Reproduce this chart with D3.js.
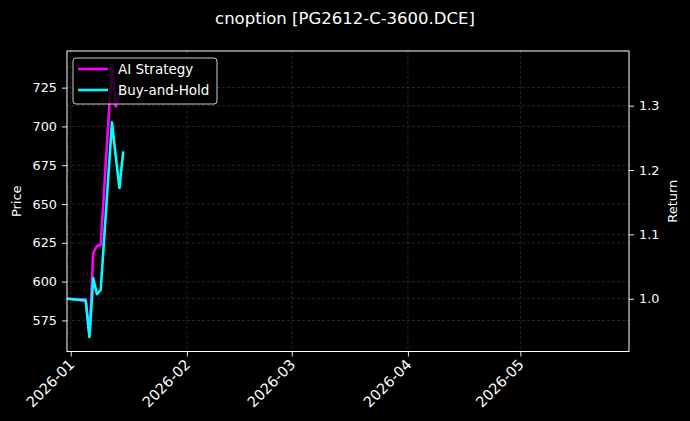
<!DOCTYPE html>
<html>
<head>
<meta charset="utf-8">
<script src="https://cdn.jsdelivr.net/npm/d3@7"></script>
<style>
  body { margin: 0; background: #000; }
  svg { display: block; font-family: "DejaVu Sans", sans-serif; }
  .tick text { fill: #fff; font-family: "DejaVu Sans", sans-serif; }
</style>
</head>
<body>
<div id="chart"></div>
<script>
// trading days shown in the chart
var dates = ["2025-12-31", "2026-01-05", "2026-01-06", "2026-01-07", "2026-01-08",
             "2026-01-09", "2026-01-12", "2026-01-13", "2026-01-14", "2026-01-15"];
var aiReturn = [1.000, 0.999, 0.942, 1.071, 1.082, 1.084, 1.364, 1.299, 1.318, 1.326];
var bhReturn = [1.000, 0.997, 0.9405, 1.032, 1.007, 1.014, 1.274, 1.222, 1.172, 1.229];
var xRange = ["2025-12-31", "2026-05-30"];
var priceRange = [555, 748.6];
var returnRange = [0.918, 1.385];
var priceTicks = [575, 600, 625, 650, 675, 700, 725];
var returnTicks = [1.0, 1.1, 1.2, 1.3];
var seriesNames = ["AI Strategy", "Buy-and-Hold"];
var seriesColors = ["#ff00ff", "#00ffff"];

var width = 690, height = 421;
var pLeft = 67, pRight = 629, pTop = 51, pBottom = 351.5;

var parse = d3.timeParse("%Y-%m-%d");
var x = d3.scaleTime().domain(xRange.map(parse)).range([pLeft, pRight]);
var yPrice = d3.scaleLinear().domain(priceRange).range([pBottom, pTop]);
var yRet = d3.scaleLinear().domain(returnRange).range([pBottom, pTop]);

var svg = d3.select("#chart").append("svg").attr("width", width).attr("height", height);
svg.append("rect").attr("width", width).attr("height", height).attr("fill", "#000");

svg.append("defs").append("clipPath").attr("id", "plot").append("rect")
  .attr("x", pLeft).attr("y", pTop).attr("width", pRight - pLeft).attr("height", pBottom - pTop);

// grid
var grid = svg.append("g").attr("stroke", "#fff").attr("stroke-opacity", 0.25)
  .attr("stroke-width", 0.6).attr("stroke-dasharray", "3,2");
var monthTicks = x.ticks(d3.timeMonth.every(1));
grid.selectAll("line.gx").data(monthTicks).enter().append("line").attr("class", "gx")
  .attr("x1", function(d) { return x(d); }).attr("x2", function(d) { return x(d); })
  .attr("y1", pTop).attr("y2", pBottom);
grid.selectAll("line.gp").data(priceTicks).enter().append("line").attr("class", "gp")
  .attr("x1", pLeft).attr("x2", pRight)
  .attr("y1", function(d) { return yPrice(d); }).attr("y2", function(d) { return yPrice(d); });
grid.selectAll("line.gr").data(returnTicks).enter().append("line").attr("class", "gr")
  .attr("x1", pLeft).attr("x2", pRight)
  .attr("y1", function(d) { return yRet(d); }).attr("y2", function(d) { return yRet(d); });

// lines
var series = [aiReturn, bhReturn];
var line = d3.line()
  .x(function(d, i) { return x(parse(dates[i])); })
  .y(function(d) { return yRet(d); });
svg.append("g").attr("clip-path", "url(#plot)").selectAll("path.series").data(series).enter()
  .append("path").attr("class", "series")
  .attr("fill", "none")
  .attr("stroke", function(d, i) { return seriesColors[i]; })
  .attr("stroke-width", 2.6)
  .attr("stroke-linejoin", "round")
  .attr("d", line);

// axes
var xAxis = svg.append("g").attr("transform", "translate(0," + pBottom + ")")
  .call(d3.axisBottom(x).tickValues(monthTicks).tickFormat(d3.timeFormat("%Y-%m")).tickSize(5).tickPadding(4));
xAxis.selectAll("text").style("font-size", "14.5px")
  .attr("text-anchor", "end")
  .attr("dx", 0).attr("dy", 0).attr("y", 0)
  .attr("transform", "translate(4,14) rotate(-45)");

var yAxisL = svg.append("g").attr("transform", "translate(" + pLeft + ",0)")
  .call(d3.axisLeft(yPrice).tickValues(priceTicks).tickSize(5).tickPadding(5));
yAxisL.selectAll("text").style("font-size", "12.8px");

var yAxisR = svg.append("g").attr("transform", "translate(" + pRight + ",0)")
  .call(d3.axisRight(yRet).tickValues(returnTicks).tickFormat(d3.format(".1f")).tickSize(5).tickPadding(5));
yAxisR.selectAll("text").style("font-size", "12.8px");

svg.selectAll(".domain").remove();
svg.selectAll(".tick line").attr("stroke", "#fff").attr("stroke-width", 0.9);

svg.append("rect").attr("x", pLeft).attr("y", pTop).attr("width", pRight - pLeft).attr("height", pBottom - pTop)
  .attr("fill", "none").attr("stroke", "#fff").attr("stroke-width", 1);

// labels
svg.append("text").attr("x", width / 2).attr("y", 24).attr("text-anchor", "middle")
  .attr("fill", "#fff").attr("font-size", 16.5).text("cnoption [PG2612-C-3600.DCE]");
svg.append("text").attr("transform", "translate(21," + ((pTop + pBottom) / 2) + ") rotate(-90)")
  .attr("text-anchor", "middle").attr("fill", "#fff").attr("font-size", 13).text("Price");
svg.append("text").attr("transform", "translate(677," + ((pTop + pBottom) / 2) + ") rotate(-90)")
  .attr("text-anchor", "middle").attr("fill", "#fff").attr("font-size", 13).text("Return");

// legend
var legend = svg.append("g").attr("transform", "translate(73,58)");
legend.append("rect").attr("width", 144).attr("height", 46).attr("rx", 3)
  .attr("fill", "#000").attr("fill-opacity", 0.8)
  .attr("stroke", "#ccc").attr("stroke-width", 1);
legend.selectAll("g.item").data(seriesNames).enter().append("g").attr("class", "item")
  .attr("transform", function(d, i) { return "translate(0," + (11 + i * 21) + ")"; })
  .each(function(d, i) {
    var g = d3.select(this);
    g.append("line").attr("x1", 5).attr("x2", 35).attr("stroke", seriesColors[i]).attr("stroke-width", 2.6);
    g.append("text").attr("x", 45).attr("y", 5).attr("fill", "#fff").attr("font-size", 13.5).text(d);
  });
</script>
</body>
</html>
